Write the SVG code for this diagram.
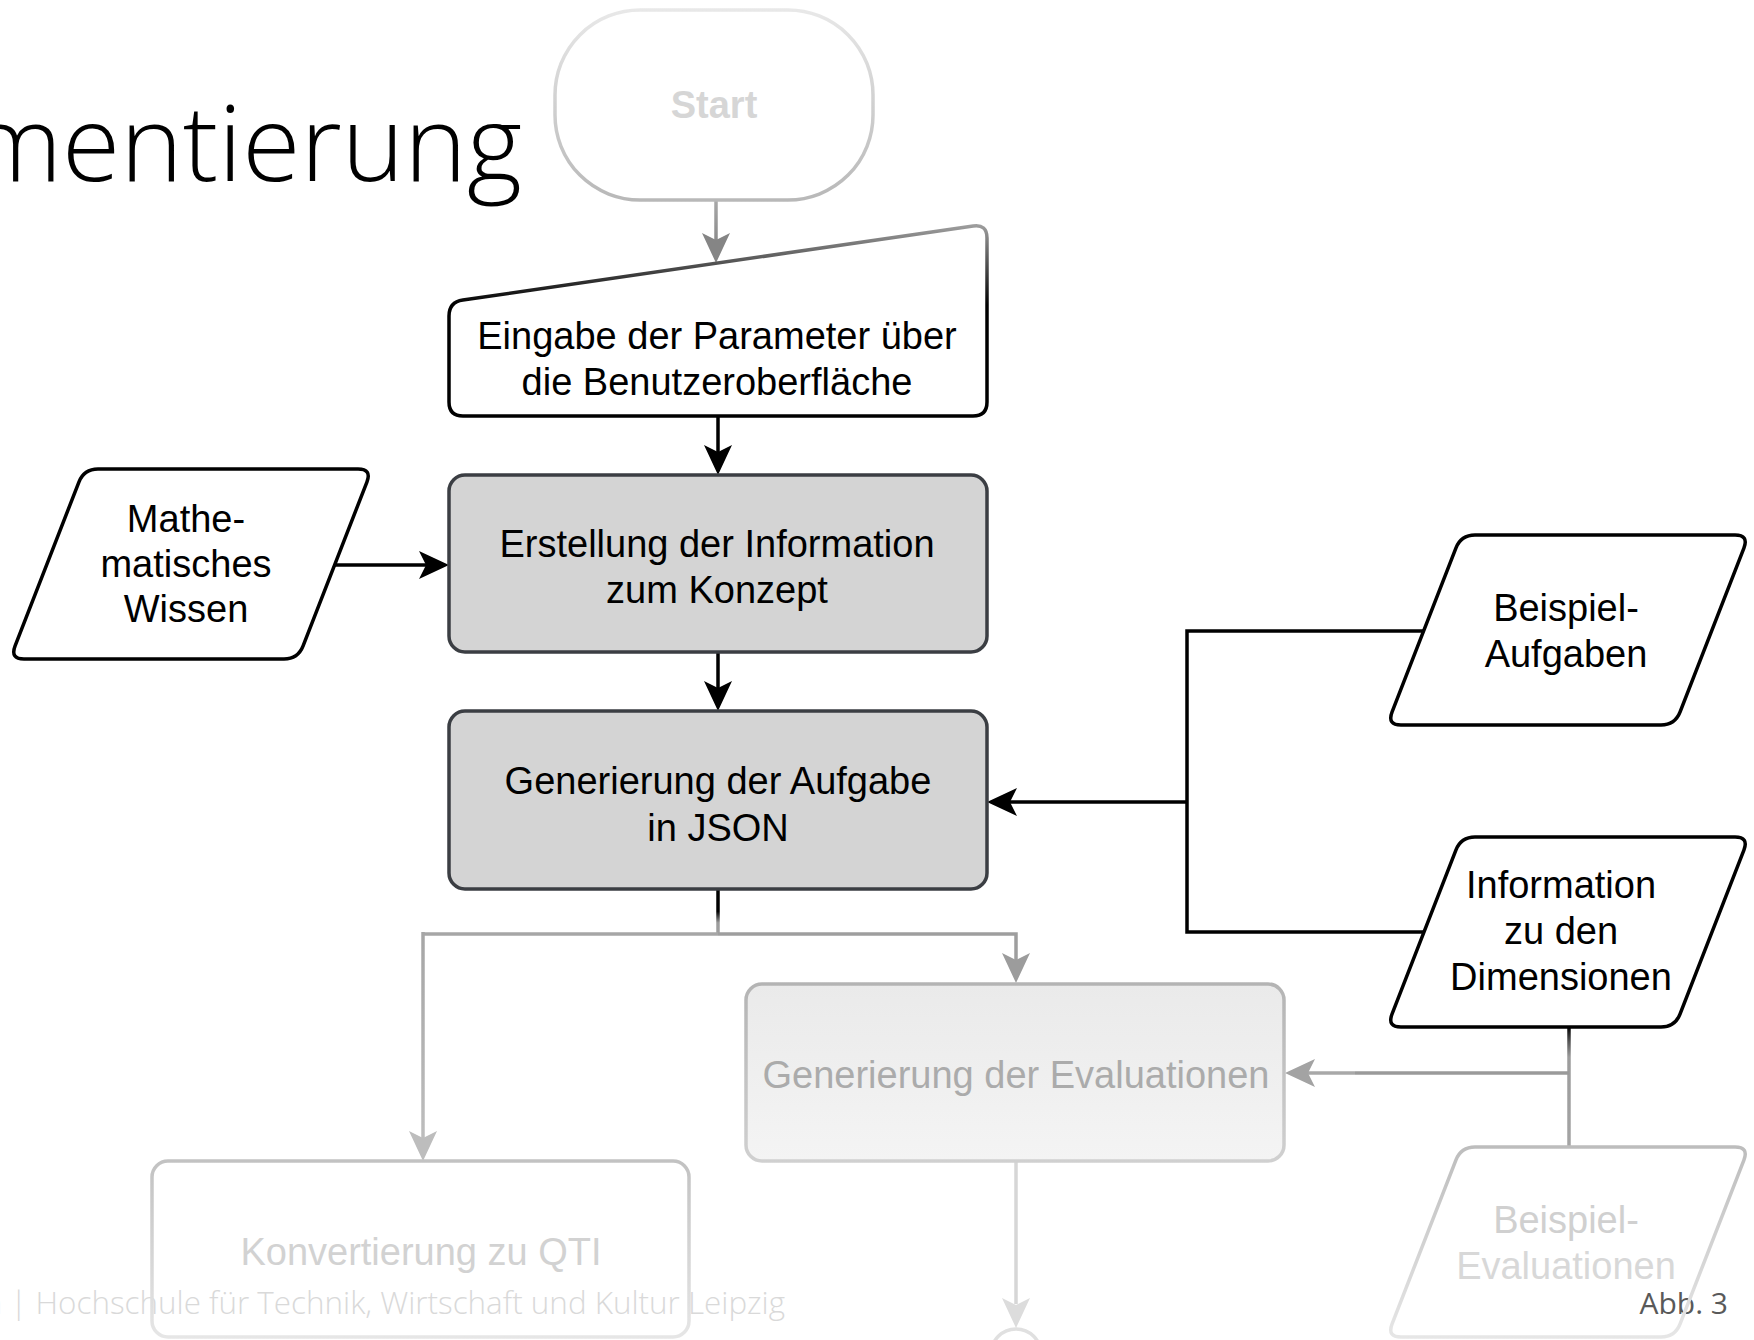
<svg xmlns="http://www.w3.org/2000/svg" xmlns:xlink="http://www.w3.org/1999/xlink" width="1754" height="1340" viewBox="0 0 1754 1340">
<style>
.t{font-family:"Liberation Sans",Arial,sans-serif;font-size:38px;text-anchor:middle;fill:#000}
.slide{font-family:"Open Sans","Noto Sans",sans-serif}
.proc{fill:#d4d4d4;stroke:#3b3e43;stroke-width:3.5}
.io{fill:#fff;stroke:#000;stroke-width:3.5}
.ln{fill:none;stroke-width:3.5}
</style>
<defs>
<path id="ah" d="M0,0 L-14,-30 L0,-23 L14,-30 Z"/>
<linearGradient id="gStart" gradientUnits="userSpaceOnUse" x1="0" y1="10" x2="0" y2="200">
<stop offset="0" stop-color="#e8e8e8"/><stop offset="1" stop-color="#b8b8b8"/>
</linearGradient>
<linearGradient id="gInput" gradientUnits="userSpaceOnUse" x1="0" y1="224" x2="0" y2="305">
<stop offset="0" stop-color="#a0a0a0"/><stop offset="1" stop-color="#000"/>
</linearGradient>
<linearGradient id="gStartArrow" gradientUnits="userSpaceOnUse" x1="0" y1="201" x2="0" y2="263">
<stop offset="0" stop-color="#a8a8a8"/><stop offset="1" stop-color="#7a7a7a"/>
</linearGradient>
<linearGradient id="gEvalFill" x1="0" y1="0" x2="0" y2="1">
<stop offset="0" stop-color="#eaeaea"/><stop offset="1" stop-color="#f4f4f4"/>
</linearGradient>
<linearGradient id="gEvalStroke" gradientUnits="userSpaceOnUse" x1="0" y1="984" x2="0" y2="1161">
<stop offset="0" stop-color="#b4b4b4"/><stop offset="1" stop-color="#d0d0d0"/>
</linearGradient>
<linearGradient id="gKonvStroke" gradientUnits="userSpaceOnUse" x1="0" y1="1161" x2="0" y2="1337">
<stop offset="0" stop-color="#c2c2c2"/><stop offset="1" stop-color="#e6e6e6"/>
</linearGradient>
<linearGradient id="gBspEvalStroke" gradientUnits="userSpaceOnUse" x1="0" y1="1147" x2="0" y2="1337">
<stop offset="0" stop-color="#bdbdbd"/><stop offset="1" stop-color="#e6e6e6"/>
</linearGradient>
<linearGradient id="gDown" gradientUnits="userSpaceOnUse" x1="0" y1="889" x2="0" y2="934">
<stop offset="0" stop-color="#000"/><stop offset="0.5" stop-color="#000"/><stop offset="0.75" stop-color="#9c9c9c"/><stop offset="1" stop-color="#a0a0a0"/>
</linearGradient>
<linearGradient id="gInfoDown" gradientUnits="userSpaceOnUse" x1="0" y1="1027" x2="0" y2="1147">
<stop offset="0" stop-color="#000"/><stop offset="0.12" stop-color="#555"/><stop offset="0.25" stop-color="#9c9c9c"/><stop offset="1" stop-color="#a4a4a4"/>
</linearGradient>
<linearGradient id="gLeftDown" gradientUnits="userSpaceOnUse" x1="0" y1="934" x2="0" y2="1161">
<stop offset="0" stop-color="#a6a6a6"/><stop offset="1" stop-color="#c0c0c0"/>
</linearGradient>
</defs>

<!-- slide background texts -->
<text class="slide" x="522" y="181" font-size="106" font-weight="300" text-anchor="end" fill="#000">mentierung</text>
<text class="slide" x="785" y="1314" font-size="31.4" font-weight="300" text-anchor="end" fill="#d9d9d9">n | Hochschule für Technik, Wirtschaft und Kultur Leipzig</text>
<text class="slide" x="1728" y="1314" font-size="30" text-anchor="end" fill="#595959">Abb. 3</text>

<g id="connectors">
<!-- Start -> Eingabe -->
<path class="ln" d="M716,201 V240" stroke="url(#gStartArrow)"/>
<use xlink:href="#ah" href="#ah" transform="translate(716,263)" fill="#858585"/>
<!-- Eingabe -> Erstellung -->
<path class="ln" d="M718,416 V452" stroke="#000"/>
<use xlink:href="#ah" href="#ah" transform="translate(718,475)" fill="#000"/>
<!-- Erstellung -> Generierung Aufgabe -->
<path class="ln" d="M718,652 V688" stroke="#000"/>
<use xlink:href="#ah" href="#ah" transform="translate(718,711)" fill="#000"/>
<!-- Mathe -> Erstellung -->
<path class="ln" d="M335,565 H426" stroke="#000"/>
<use xlink:href="#ah" href="#ah" transform="translate(449,565) rotate(-90)" fill="#000"/>
<!-- Beispiel-Aufgaben / Information -> Generierung Aufgabe -->
<path class="ln" d="M1424,631 H1187 V932 H1424" stroke="#000"/>
<path class="ln" d="M1187,802 H1010" stroke="#000"/>
<use xlink:href="#ah" href="#ah" transform="translate(987,802) rotate(90)" fill="#000"/>
<!-- Generierung Aufgabe -> split -->
<path class="ln" d="M718,889 V934" stroke="url(#gDown)"/>
<path class="ln" d="M718,934 H1016 V960" stroke="#9e9e9e"/>
<use xlink:href="#ah" href="#ah" transform="translate(1016,983)" fill="#9c9c9c"/>
<path class="ln" d="M718,934 H423" stroke="#a6a6a6"/>
<path class="ln" d="M423,932 V1138" stroke="url(#gLeftDown)"/>
<use xlink:href="#ah" href="#ah" transform="translate(423,1161)" fill="#bdbdbd"/>
<!-- Information -> Beispiel-Evaluationen / Generierung Evaluationen -->
<path class="ln" d="M1569,1027 V1147" stroke="url(#gInfoDown)"/>
<path class="ln" d="M1569,1073 H1355" stroke="#9a9a9a"/>
<path class="ln" d="M1355,1073 H1308" stroke="#a8a8a8"/>
<use xlink:href="#ah" href="#ah" transform="translate(1285,1073) rotate(90)" fill="#a3a3a3"/>
<!-- Generierung Evaluationen -> end -->
<path class="ln" d="M1016,1161 V1304" stroke="#d6d6d6"/>
<use xlink:href="#ah" href="#ah" transform="translate(1016,1328)" fill="#dcdcdc"/>
</g>

<g id="node-start">
<rect x="555" y="10" width="318" height="190" rx="85" ry="85" fill="#fff" stroke="url(#gStart)" stroke-width="3.5"/>
<text x="714" y="118" font-family="Liberation Sans, Arial, sans-serif" font-size="38" font-weight="bold" text-anchor="middle" fill="#d6d6d6">Start</text>
</g>

<g id="node-eingabe">
<path d="M462.86,299.99 L973.14,226.01 Q987,224 987,238 L987,402 Q987,416 973,416 L463,416 Q449,416 449,402 L449,316 Q449,302 462.86,299.99 Z" fill="#fff" stroke="url(#gInput)" stroke-width="3.5"/>
<text class="t" x="717" y="349">Eingabe der Parameter über</text>
<text class="t" x="717" y="395">die Benutzeroberfläche</text>
</g>

<g id="node-mathe">
<path class="io" d="M98,469 L358,469 Q372,469 366.9,482.05 L303.1,645.95 Q298,659 284,659 L24,659 Q10,659 15.1,645.95 L78.9,482.05 Q84,469 98,469 Z"/>
<text class="t" x="186" y="532">Mathe-</text>
<text class="t" x="186" y="577">matisches</text>
<text class="t" x="186" y="622">Wissen</text>
</g>

<g id="node-erstellung">
<rect class="proc" x="449" y="475" width="538" height="177" rx="16"/>
<text class="t" x="717" y="557">Erstellung der Information</text>
<text class="t" x="717" y="603">zum Konzept</text>
</g>

<g id="node-generierung-aufgabe">
<rect class="proc" x="449" y="711" width="538" height="178" rx="16"/>
<text class="t" x="718" y="794">Generierung der Aufgabe</text>
<text class="t" x="718" y="841">in JSON</text>
</g>

<g id="node-beispiel-aufgaben">
<path class="io" d="M1475,535 L1735,535 Q1749,535 1743.9,548.05 L1680.1,711.95 Q1675,725 1661,725 L1401,725 Q1387,725 1392.1,711.95 L1455.9,548.05 Q1461,535 1475,535 Z"/>
<text class="t" x="1566" y="621">Beispiel-</text>
<text class="t" x="1566" y="667">Aufgaben</text>
</g>

<g id="node-information">
<path class="io" d="M1475,837 L1735,837 Q1749,837 1743.9,850.05 L1680.1,1013.95 Q1675,1027 1661,1027 L1401,1027 Q1387,1027 1392.1,1013.95 L1455.9,850.05 Q1461,837 1475,837 Z"/>
<text class="t" x="1561" y="898">Information</text>
<text class="t" x="1561" y="944">zu den</text>
<text class="t" x="1561" y="990">Dimensionen</text>
</g>

<g id="node-generierung-evaluationen">
<rect x="746" y="984" width="538" height="177" rx="16" fill="url(#gEvalFill)" stroke="url(#gEvalStroke)" stroke-width="3.5"/>
<text class="t" x="1016" y="1088" style="fill:#ababab">Generierung der Evaluationen</text>
</g>

<g id="node-konvertierung">
<rect x="152" y="1161" width="537" height="176" rx="16" fill="none" stroke="url(#gKonvStroke)" stroke-width="3.5"/>
<text class="t" x="421" y="1265" style="fill:#d2d2d2">Konvertierung zu QTI</text>
</g>

<g id="node-beispiel-evaluationen">
<path d="M1475,1147 L1735,1147 Q1749,1147 1743.9,1160.05 L1680.1,1323.95 Q1675,1337 1661,1337 L1401,1337 Q1387,1337 1392.1,1323.95 L1455.9,1160.05 Q1461,1147 1475,1147 Z" fill="none" stroke="url(#gBspEvalStroke)" stroke-width="3.5"/>
<text class="t" x="1566" y="1233" style="fill:#d0d0d0">Beispiel-</text>
<text class="t" x="1566" y="1279" style="fill:#d8d8d8">Evaluationen</text>
</g>

<g id="node-end">
<circle cx="1016" cy="1354" r="25" fill="#fff" stroke="#e0e0e0" stroke-width="3.5"/>
</g>
</svg>
